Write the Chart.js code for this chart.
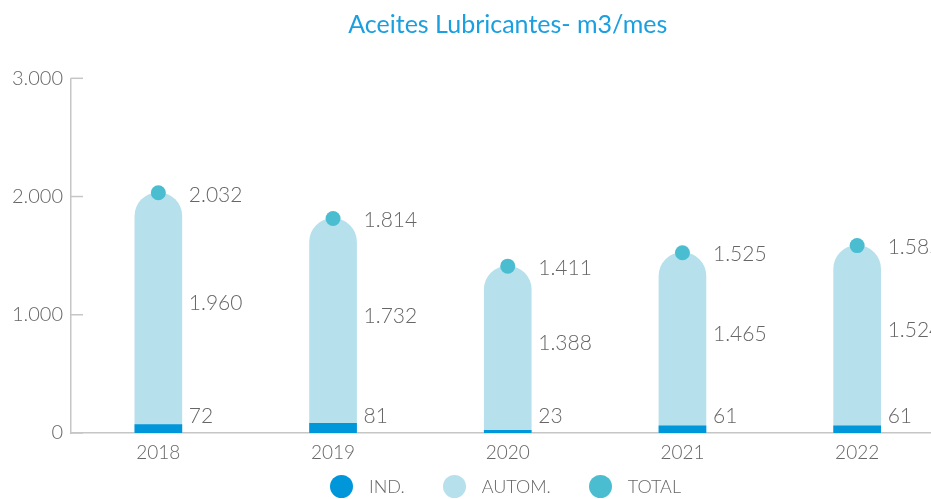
<!DOCTYPE html>
<html>
<head>
<meta charset="utf-8">
<script src="https://cdn.jsdelivr.net/npm/chart.js@4.4.1/dist/chart.umd.min.js"></script>
<style>
    html, body { margin: 0; padding: 0; background: #fff; overflow: hidden; }
    /* canvas is a bit wider than the window: the plot runs past the right edge like the original */
    #wrap { position: relative; width: 952px; height: 499px; }
    #legend {
        position: absolute; left: 0; top: 474px; width: 931px; height: 24px;
        display: flex; justify-content: center; align-items: center;
        padding-left: 80px; box-sizing: border-box;
        font-family: Lato, sans-serif; font-weight: 300; font-size: 18px; color: #666;
    }
    .item { display: flex; align-items: center; margin-right: 38px; }
    .item:last-child { margin-right: 0; }
    .dot { width: 23px; height: 23px; border-radius: 50%; margin-right: 16px; }
</style>
</head>
<body>
<div id="wrap">
    <canvas id="lubChart"></canvas>
    <div id="legend"></div>
</div>
<script>
const years = ['2018', '2019', '2020', '2021', '2022'];
const ind = [72, 81, 23, 61, 61];
const autom = [1960, 1732, 1388, 1465, 1524];
const total = [2032, 1814, 1411, 1525, 1585];
const yMax = 3000;
const yStep = 1000;

const gray = '#666';
const axisGray = '#c6c6c6';

function fmt(v) {
    return String(v).replace(/\B(?=(\d{3})+(?!\d))/g, '.');
}

// value labels to the right of each bar
const valueLabels = {
    id: 'valueLabels',
    afterDatasetsDraw(chart) {
        const ctx = chart.ctx;
        const y = chart.scales.y;
        const autMeta = chart.getDatasetMeta(1);
        const totMeta = chart.getDatasetMeta(2);
        ctx.save();
        ctx.font = '300 21px Lato, sans-serif';
        ctx.fillStyle = gray;
        ctx.textAlign = 'left';
        ctx.textBaseline = 'middle';
        years.forEach((yr, i) => {
            const bar = autMeta.data[i];
            const x = bar.x + bar.width / 2 + 7;
            ctx.fillText(fmt(ind[i]), x, y.getPixelForValue(0) - 17);
            ctx.fillText(fmt(autom[i]), x, y.getPixelForValue(ind[i] + autom[i] / 2) - 5);
            ctx.fillText(fmt(total[i]), x, totMeta.data[i].y + 2);
        });
        ctx.restore();
    }
};

// short tick marks pointing into the plot area
const innerTicks = {
    id: 'innerTicks',
    beforeDatasetsDraw(chart) {
        const ctx = chart.ctx;
        const y = chart.scales.y;
        const left = chart.chartArea.left;
        ctx.save();
        ctx.strokeStyle = axisGray;
        ctx.lineWidth = 1.5;
        y.ticks.forEach(t => {
            const py = y.getPixelForValue(t.value);
            ctx.beginPath();
            ctx.moveTo(left, py);
            ctx.lineTo(left + 12, py);
            ctx.stroke();
        });
        ctx.restore();
    }
};

const ctx = document.getElementById('lubChart').getContext('2d');
const chart = new Chart(ctx, {
    type: 'bar',
    data: {
        labels: years,
        datasets: [
            {
                label: 'IND.',
                data: ind,
                backgroundColor: '#0096da',
                barThickness: 47,
                borderRadius: 5,
                borderSkipped: false,
                order: 1,
            },
            {
                label: 'AUTOM.',
                data: autom,
                backgroundColor: '#b6e0ec',
                barThickness: 47,
                base: 0,
                borderRadius: { topLeft: 24, topRight: 24, bottomLeft: 0, bottomRight: 0 },
                order: 2,
            },
            {
                type: 'line',
                label: 'TOTAL',
                data: total,
                showLine: false,
                pointRadius: 7.5,
                pointHoverRadius: 7.5,
                pointBackgroundColor: '#4bbdd0',
                pointBorderWidth: 0,
                order: 0,
            },
        ],
    },
    options: {
        responsive: true,
        maintainAspectRatio: false,
        animation: false,
        plugins: {
            legend: { display: false },
            tooltip: { enabled: false },
            title: {
                display: true,
                text: 'Aceites Lubricantes- m3/mes',
                color: '#1a9fe0',
                fullSize: false,
                font: { family: 'Lato, sans-serif', size: 25, weight: 'normal' },
                padding: { top: 10, bottom: 38.3 },
            },
        },
        scales: {
            x: {
                stacked: true,
                grid: { display: false, drawTicks: false },
                border: { color: axisGray, width: 1.5 },
                ticks: {
                    color: gray,
                    padding: 8,
                    font: { family: 'Lato, sans-serif', size: 19, weight: '300' },
                },
                afterFit: (scale) => { scale.height = 66; },
            },
            y: {
                stacked: true,
                min: 0,
                max: yMax,
                grid: { display: false, drawTicks: false },
                border: { color: axisGray, width: 1.5 },
                ticks: {
                    stepSize: yStep,
                    color: gray,
                    padding: 8,
                    font: { family: 'Lato, sans-serif', size: 20, weight: '300' },
                    callback: (value) => fmt(value),
                },
                afterFit: (scale) => { scale.width = 71; },
            },
        },
    },
    plugins: [valueLabels, innerTicks],
});

// html legend built from the chart datasets
const legendEl = document.getElementById('legend');
chart.data.datasets.forEach(ds => {
    const item = document.createElement('div');
    item.className = 'item';
    const dot = document.createElement('span');
    dot.className = 'dot';
    dot.style.background = ds.backgroundColor || ds.pointBackgroundColor;
    const txt = document.createElement('span');
    txt.textContent = ds.label;
    item.appendChild(dot);
    item.appendChild(txt);
    legendEl.appendChild(item);
});
</script>
</body>
</html>
